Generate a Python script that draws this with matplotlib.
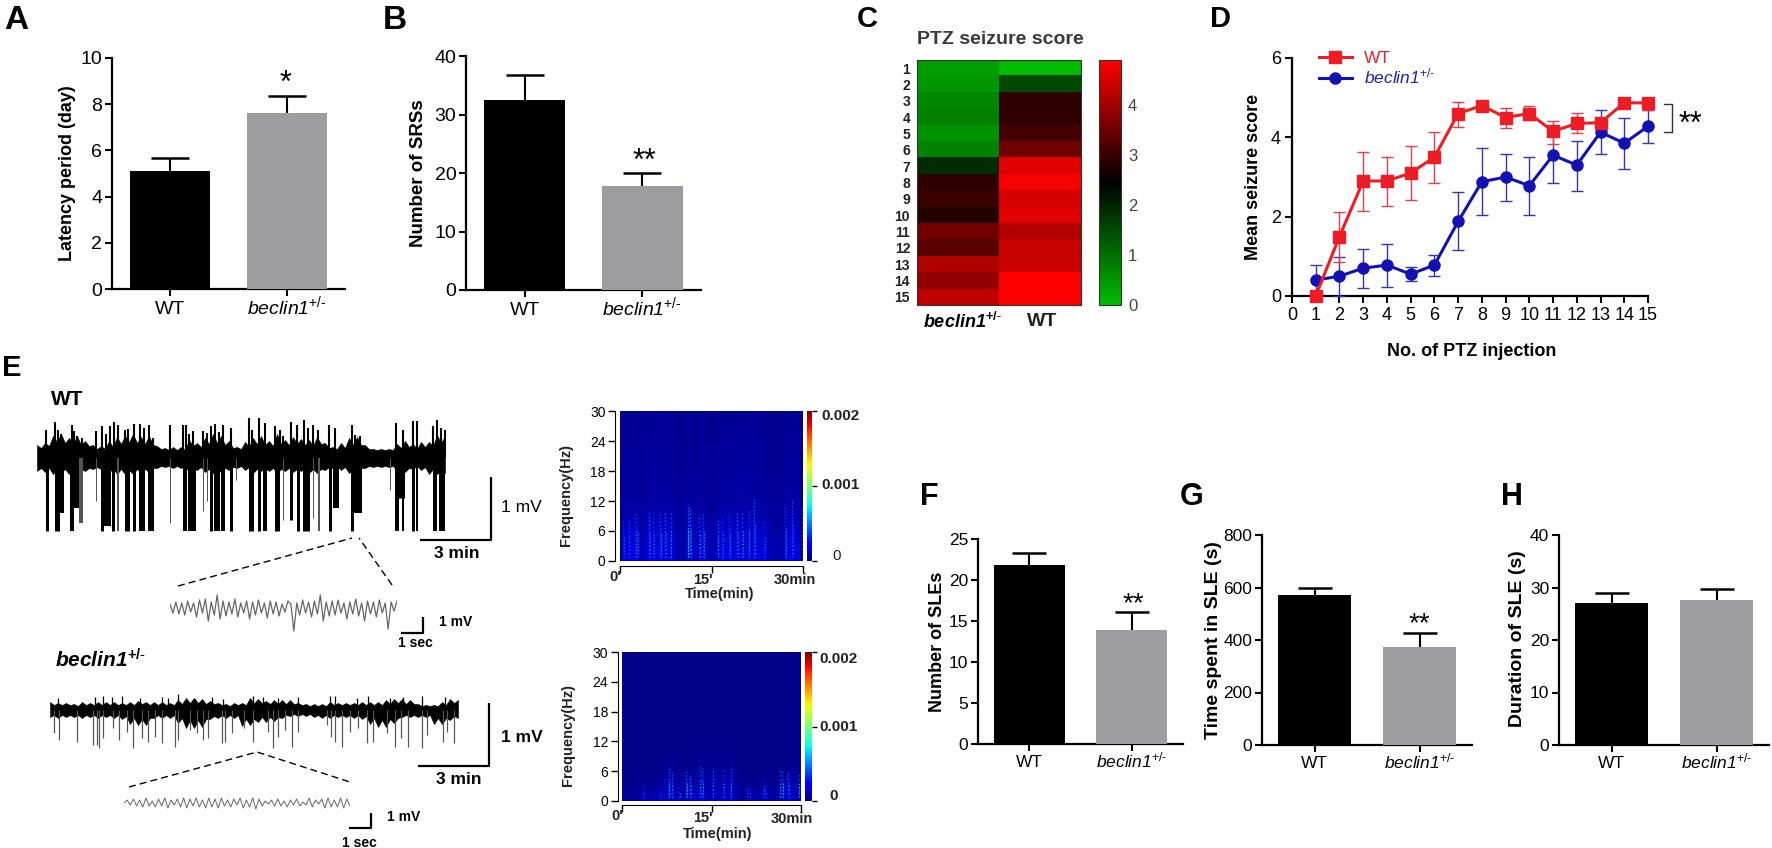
import numpy as np
import matplotlib
matplotlib.use("Agg")
import matplotlib.pyplot as plt
from matplotlib import font_manager
from matplotlib.colors import LinearSegmentedColormap, Normalize
from matplotlib.cm import ScalarMappable

W, H = 1772, 848

# bar panels: WT, beclin1 mean and top of the error bar
groups = ["WT", "beclin"]
latency = [5.1, 7.6]
latency_top = [5.65, 8.35]
srs = [32.5, 17.8]
srs_top = [36.8, 20.0]
sle_count = [21.8, 13.9]
sle_count_top = [23.3, 16.1]
sle_time = [570, 372]
sle_time_top = [600, 428]
sle_dur = [27.0, 27.6]
sle_dur_top = [28.9, 29.7]

# panel D, also the two columns of the heatmap in C
injection = [1, 2, 3, 4, 5, 6, 7, 8, 9, 10, 11, 12, 13, 14, 15]
wt_score = [0, 1.5, 2.9, 2.9, 3.1, 3.5, 4.6, 4.8, 4.5, 4.6, 4.15, 4.35, 4.37, 4.87, 4.87]
wt_high = [0, 2.13, 3.64, 3.51, 3.77, 4.13, 4.89, 4.88, 4.75, 4.8, 4.41, 4.62, 4.42, 4.93, 4.93]
wt_low = [0, 0.86, 2.14, 2.27, 2.42, 2.86, 4.27, 4.72, 4.23, 4.44, 3.82, 4.1, 4.32, 4.81, 4.7]
bec_score = [0.4, 0.5, 0.7, 0.78, 0.55, 0.78, 1.88, 2.88, 3.0, 2.78, 3.55, 3.3, 4.13, 3.85, 4.28]
bec_high = [0.79, 0.99, 1.18, 1.31, 0.73, 1.04, 2.61, 3.72, 3.59, 3.51, 4.23, 3.92, 4.69, 4.48, 4.69]
bec_low = [0, 0, 0.2, 0.22, 0.37, 0.5, 1.15, 2.04, 2.39, 2.03, 2.84, 2.64, 3.58, 3.21, 3.86]

# EEG trace WT: amplitude every 4 units along the trace
wt_band_up = [13, 10, 15, 12, 22, 16, 24, 15, 20, 14,
              22, 13, 17, 12, 13, 9, 12, 9, 17, 11,
              21, 14, 22, 16, 24, 15, 21, 14, 22, 13,
              12, 9, 10, 8, 11, 8, 11, 8, 18, 12,
              15, 11, 20, 14, 24, 15, 22, 13, 17, 10,
              11, 9, 16, 11, 20, 14, 22, 13, 17, 12,
              24, 14, 18, 13, 21, 14, 19, 13, 18, 12,
              21, 14, 15, 10, 11, 9, 15, 10, 20, 13,
              21, 13, 13, 9, 9, 8, 9, 8, 9, 8,
              14, 10, 17, 11, 14, 9, 16, 11, 16, 12,
              23, 15, 22]
wt_band_dn = [13, 10, 14, 10, 16, 12, 15, 11, 16, 11,
              16, 11, 13, 10, 11, 9, 11, 9, 15, 10,
              16, 11, 16, 12, 16, 11, 15, 11, 14, 10,
              10, 8, 9, 8, 10, 8, 10, 8, 14, 10,
              12, 9, 14, 11, 15, 11, 14, 10, 12, 9,
              10, 8, 12, 9, 15, 11, 13, 10, 13, 10,
              15, 11, 13, 10, 14, 11, 13, 10, 15, 11,
              15, 11, 12, 9, 10, 8, 12, 9, 15, 11,
              15, 10, 10, 8, 9, 8, 9, 8, 9, 8,
              13, 9, 14, 10, 11, 8, 12, 9, 16, 11,
              16, 12, 15]
wt_up_x = [9, 18, 21, 24, 26, 35, 37, 40, 45, 59, 65, 69, 73, 77, 81, 88, 91, 97, 103, 107, 112, 116, 133, 146, 149, 152, 156, 166, 170, 174, 178, 182, 186, 194,
           212, 215, 222, 228, 238, 243, 246, 254, 260, 267, 271, 276, 281, 292, 298, 315, 318, 323, 359, 366, 376, 380, 396, 400, 404, 408]
wt_up_h = [28, 36, 28, 24, 18, 33, 27, 22, 20, 27, 32, 24, 32, 36, 33, 28, 29, 34, 34, 30, 33, 20, 33, 33, 33, 24, 27, 27, 25, 32, 34, 26, 33, 30,
           40, 28, 40, 35, 32, 28, 22, 36, 33, 38, 30, 33, 28, 33, 30, 33, 23, 22, 35, 28, 37, 37, 32, 38, 30, 28]
wt_dn_x = [10, 20, 24, 35, 40, 44, 59, 65, 69, 76, 81, 90, 97, 105, 114, 133, 148, 155, 166, 170, 174, 180, 186, 194, 199,
           214, 222, 228, 240, 246, 254, 261, 269, 276, 282, 293, 299, 315, 321, 353, 360, 363, 366, 376, 380, 398, 405]
wt_dn_d = [73, 73, 55, 73, 50, 65, 43, 73, 68, 73, 73, 73, 73, 73, 73, 65, 73, 73, 53, 43, 73, 73, 73, 73, 22,
           73, 73, 73, 73, 62, 62, 73, 73, 60, 73, 73, 50, 73, 55, 32, 73, 40, 73, 73, 73, 73, 73]
wt_dn_w = [3, 5, 6, 4, 10, 4, 1, 3, 10, 3, 2, 5, 3, 6, 6, 1, 4, 8, 1, 1, 3, 6, 4, 3, 1,
           5, 3, 4, 5, 1, 3, 3, 7, 1, 2, 3, 6, 3, 8, 1, 4, 9, 2, 3, 2, 4, 6]
wt_dn_gray = [0, 0, 0, 0, 0, 1, 1, 0, 0, 0, 1, 0, 0, 0, 0, 1, 0, 0, 1, 1, 0, 0, 0, 0, 1,
              0, 0, 0, 0, 1, 0, 0, 0, 1, 1, 0, 0, 0, 0, 1, 0, 0, 0, 0, 0, 0, 0]

# EEG trace beclin1
bec_band_up = [8, 5, 7, 5, 7, 5, 6, 4, 8, 5,
               7, 5, 8, 5, 8, 5, 8, 5, 7, 5,
               8, 5, 9, 6, 8, 5, 8, 5, 8, 5,
               7, 5, 10, 6, 12, 7, 12, 7, 11, 6,
               9, 6, 7, 5, 6, 4, 7, 5, 7, 5,
               12, 7, 11, 7, 9, 6, 10, 6, 10, 6,
               10, 6, 7, 5, 6, 4, 6, 4, 6, 4,
               8, 5, 7, 5, 7, 5, 7, 5, 8, 5,
               8, 5, 8, 5, 10, 6, 11, 7, 11, 6,
               10, 6, 6, 4, 5, 4, 5, 4, 8, 5,
               11, 7, 10]
bec_band_dn = [7, 5, 8, 5, 7, 5, 7, 5, 8, 5,
               7, 5, 8, 5, 7, 5, 8, 5, 9, 6,
               14, 8, 15, 9, 15, 8, 8, 5, 8, 5,
               8, 5, 13, 8, 18, 10, 18, 10, 17, 9,
               9, 6, 8, 5, 8, 5, 8, 5, 16, 9,
               15, 9, 12, 7, 12, 7, 11, 7, 8, 5,
               6, 4, 6, 4, 6, 4, 7, 5, 8, 5,
               8, 5, 7, 5, 7, 5, 8, 5, 9, 6,
               14, 8, 17, 10, 17, 9, 13, 8, 7, 5,
               7, 5, 7, 5, 7, 5, 14, 8, 14, 8,
               10, 6, 8]
bec_up_x = [8, 45, 53, 62, 72, 90, 112, 118, 128, 145, 162, 173, 203, 213, 228, 248, 280, 285, 307, 318, 340, 353, 372, 395]
bec_up_h = [12, 13, 14, 13, 14, 12, 13, 12, 16, 11, 13, 11, 14, 13, 12, 13, 14, 14, 12, 14, 12, 13, 14, 13]
bec_dn_x = [4, 9, 27, 43, 47, 49, 53, 63, 69, 77, 83, 92, 98, 105, 112, 125, 128, 140, 147, 153, 158, 172, 175, 182, 194,
            203, 218, 223, 228, 235, 242, 248, 277, 281, 285, 292, 300, 308, 317, 323, 337, 345, 351, 358, 372, 377, 393, 397, 404]
bec_dn_d = [23, 30, 32, 35, 35, 38, 28, 18, 30, 22, 38, 28, 32, 27, 33, 37, 30, 20, 23, 30, 28, 33, 32, 23, 18,
            32, 22, 38, 27, 20, 37, 22, 15, 27, 32, 37, 22, 18, 33, 32, 23, 37, 28, 37, 38, 25, 32, 22, 33]

# expanded traces, samples
wt_inset = [3, -6, 5, -7, 4, -8, 6, -5, 4, -10, 7, -6, 8, -14, 5, -8, 12, -12, 6, -9, 5, -7, 8, -10, 4, -6, 6, -12, 5, -8, 7, -6, 4,
            -11, 6, -7, 5, -9, 3, -5, 6, 3, -24, 4, -8, 7, -6, 5, -10, 6, -7, 12, -14, 5, -9, 6, -8, 7, -6, 4, -12, 5, -7, 8, -9, 4,
            -14, 6, -7, 5, -10, 7, -6, 4, -22, 5, -4, 6]
bec_inset = [0, 3, -2, 4, -3, 3, -4, 5, -3, 2, -4, 4, -3, 5, -5, 3, -2, 4, -4, 5, -5, 4, -3, 5, -4, 3, -5, 5, -4, 4, -5, 5, -3, 3, -4, 4,
             -2, 5, -5, 3, -4, 5, -6, 4, -3, 2, -1, 3, -3, 4, -3, 2, -4, 3, -2, 4, -3, 1, -2, 5, -4, 3, -1, 4, -5, 5, -4, 3, -4, 5, -5, 4, -3]

# spectrograms (power x 1e-3), one row per frequency, one column per minute
spec_freq = [0, 3, 6, 9, 12, 30]
minutes = [0.5, 1.5, 2.5, 3.5, 4.5, 5.5, 6.5, 7.5, 8.5, 9.5, 10.5, 11.5, 12.5, 13.5, 14.5, 15.5, 16.5, 17.5, 18.5, 19.5, 20.5, 21.5, 22.5, 23.5, 24.5, 25.5, 26.5, 27.5, 28.5, 29.5]
wt_spec = [
    [.17, .17, .18, .09, .17, .18, .17, .17, .18, .09, .08, .18, .10, .18, .10, .09, .17, .18, .17, .18, .17, .18, .17, .18, .10, .09, .08, .17, .18, .17],
    [.15, .15, .16, .08, .15, .16, .15, .15, .16, .08, .07, .16, .09, .16, .09, .08, .15, .16, .15, .16, .15, .16, .15, .16, .09, .08, .07, .15, .16, .15],
    [.11, .12, .13, .07, .13, .13, .12, .13, .13, .07, .06, .13, .08, .13, .08, .07, .12, .13, .13, .13, .13, .13, .13, .12, .08, .07, .06, .13, .13, .12],
    [.08, .08, .09, .06, .09, .09, .09, .09, .09, .06, .06, .10, .06, .09, .06, .06, .09, .09, .09, .09, .09, .10, .10, .08, .06, .06, .06, .09, .09, .09],
    [.06, .06, .07, .05, .06, .07, .06, .07, .07, .05, .05, .07, .05, .07, .05, .05, .07, .07, .06, .07, .07, .07, .07, .06, .05, .05, .05, .07, .07, .07],
    [.04, .04, .05, .03, .04, .04, .04, .04, .05, .03, .03, .04, .03, .05, .03, .03, .04, .04, .04, .04, .04, .05, .04, .04, .03, .03, .03, .04, .04, .04],
]
bec_spec = [
    [.09, .05, .06, .11, .08, .12, .12, .13, .14, .14, .09, .15, .13, .16, .12, .13, .11, .15, .13, .08, .06, .12, .08, .12, .13, .06, .10, .15, .14, .15],
    [.03, .03, .03, .05, .04, .05, .06, .09, .10, .06, .05, .09, .07, .11, .07, .09, .08, .10, .09, .05, .03, .04, .03, .05, .05, .03, .05, .10, .09, .10],
    [.02, .02, .02, .02, .02, .02, .03, .04, .05, .03, .03, .04, .04, .05, .04, .05, .04, .05, .04, .03, .02, .02, .02, .03, .03, .02, .02, .04, .04, .05],
    [.02, .02, .02, .02, .02, .02, .02, .03, .03, .03, .02, .03, .03, .03, .03, .03, .03, .03, .03, .02, .02, .02, .02, .02, .02, .02, .02, .02, .03, .03],
    [.02, .02, .02, .02, .02, .02, .02, .02, .02, .02, .02, .02, .02, .02, .02, .02, .02, .02, .02, .02, .02, .02, .02, .02, .02, .02, .02, .02, .02, .02],
    [.02, .02, .02, .02, .02, .02, .02, .02, .02, .02, .02, .02, .02, .02, .02, .02, .02, .02, .02, .02, .02, .02, .02, .02, .02, .02, .02, .02, .02, .02],
]
# bright speckled bursts: time (min), top frequency (Hz), power
wt_burst_t = [0.5, 1.4, 2.5, 2.8, 4.8, 5.4, 6.6, 7.4, 8.3, 11.1, 11.5, 13, 13.6, 16, 16.7, 17.9, 19.2, 20, 21.1, 22, 23.6, 27.1, 28.2, 29.8]
wt_burst_f = [8.5, 8.5, 9.9, 9.9, 9.5, 9.5, 9.5, 9.9, 9.9, 10.9, 10.9, 9.5, 9.9, 8.5, 8.9, 9.2, 9.9, 9.9, 10.5, 12.5, 7.9, 10.9, 12.5, 11]
wt_burst_p = [.32, .34, .38, .34, .42, .38, .40, .40, .44, .5, .46, .44, .40, .42, .38, .38, .42, .44, .38, .42, .34, .38, .38, .38]
bec_burst_t = [3.6, 5.3, 6.4, 7.8, 8.3, 9.6, 10.8, 11.4, 13, 13.4, 15.2, 16.9, 18.2, 20.9, 21.3, 23.6, 24, 26.4, 26.8, 27.8, 29.6]
bec_burst_f = [3.2, 1.2, 2.6, 6.6, 5.9, 2.6, 6.3, 5.3, 7.3, 6.6, 6.3, 6.6, 6.6, 2.6, 3.2, 4.6, 3.2, 6.6, 6.3, 5.9, 5.9]
bec_burst_p = [.30, .34, .30, .42, .40, .40, .44, .44, .40, .40, .40, .38, .38, .34, .34, .30, .34, .42, .44, .40, .48]

seizure_ticks = [0, 1, 2, 3, 4]
heat_rows = [str(i) for i in injection]

installed = {f.name for f in font_manager.fontManager.ttflist}
narrow = "Liberation Sans Narrow" if "Liberation Sans Narrow" in installed else "Liberation Sans"
plt.rcParams["font.family"] = "Liberation Sans"
plt.rcParams["mathtext.fontset"] = "custom"
plt.rcParams["mathtext.rm"] = "Liberation Sans"
plt.rcParams["mathtext.it"] = "Liberation Sans:italic"
plt.rcParams["mathtext.bf"] = "Liberation Sans:bold"
plt.rcParams["mathtext.bfit"] = "Liberation Sans:italic:bold"
plt.rcParams["mathtext.cal"] = "Liberation Sans:italic"
plt.rcParams["mathtext.sf"] = narrow + ":italic"

BEC_NARROW = r"$\mathsf{beclin1}^{\text{+/-}}$"
BEC_ITALIC = r"$\mathcal{beclin1}^{\text{+/-}}$"
BEC_BOLD = r"$\mathbfit{beclin1}^{\mathbf{+/}\text{-}}$"

fig = plt.figure(figsize=(W / 100, H / 100), dpi=100)


def ax_px(left, top, right, bottom):
    return fig.add_axes([left / W, 1 - bottom / H, (right - left) / W, (bottom - top) / H])


def bar_panel(box, vals, tops, ymax, yticks, cap, fs, xpad):
    ax = ax_px(*box)
    ax.bar([0, 1], vals, width=0.69, color=["black", "#9d9da0"], zorder=3)
    for i in range(2):
        eb = ax.errorbar(i, vals[i], yerr=[[0], [tops[i] - vals[i]]], color="black", lw=1.5,
                         capsize=cap, capthick=1.8, zorder=1)
        eb[1][0].set_visible(False)  # no cap at the bar top
    ax.set_xlim(-0.5, 1.5)
    ax.set_ylim(0, ymax)
    ax.set_yticks(yticks)
    ax.set_xticks([0, 1])
    ax.set_xticklabels(["WT", BEC_NARROW])
    for lab in ax.get_xticklabels() + ax.get_yticklabels():
        lab.set_fontfamily(narrow)
        lab.set_fontsize(fs)
    for lab in ax.get_xticklabels():
        lab.set_verticalalignment("baseline")
    ax.tick_params(width=1.5, length=5)
    ax.tick_params(axis="x", pad=xpad)
    ax.tick_params(axis="y", pad=2)
    for s in ["top", "right"]:
        ax.spines[s].set_visible(False)
    for s in ["left", "bottom"]:
        ax.spines[s].set_linewidth(1.6)
    return ax


bar_panel((112, 58, 345, 289), latency, latency_top, 10, [0, 2, 4, 6, 8, 10], 14, 14, 13)
bar_panel((466, 56, 701, 290), srs, srs_top, 40, [0, 10, 20, 30, 40], 14, 14, 13)
bar_panel((978, 539, 1183, 744), sle_count, sle_count_top, 25, [0, 5, 10, 15, 20, 25], 12.5, 12.5, 11.5)
bar_panel((1262, 535, 1472, 745), sle_time, sle_time_top, 800, [0, 200, 400, 600, 800], 12.5, 12.5, 11.5)
bar_panel((1559, 535, 1769, 745), sle_dur, sle_dur_top, 40, [0, 10, 20, 30, 40], 12.5, 12.5, 11.5)

# panel C
seizure_cmap = LinearSegmentedColormap.from_list(
    "seizure", [(0, (0, 0.74, 0)), (2.45 / 4.89, (0, 0, 0)), (1, (1, 0, 0))])
ax_c = ax_px(917, 60, 1081, 305)
im = ax_c.imshow(np.array([bec_score, wt_score]).T, cmap=seizure_cmap, vmin=0, vmax=4.89, aspect="auto")
ax_c.set_xticks([])
ax_c.set_yticks(range(15))
ax_c.set_yticklabels(heat_rows, fontweight="bold", fontsize=10, color="#222222")
ax_c.tick_params(axis="y", length=0, pad=5)
for s in ax_c.spines.values():
    s.set_color("#333333")
cax = ax_px(1099, 60, 1121, 305)
cb = fig.colorbar(im, cax=cax)
cb.set_ticks(seizure_ticks)
cb.ax.tick_params(length=0, labelsize=12, labelcolor="#444444", pad=5)
cb.outline.set_edgecolor("#333333")

# panel D
ax_d = ax_px(1292, 58, 1648, 296)
wt_err = [np.array(wt_score) - np.array(wt_low), np.array(wt_high) - np.array(wt_score)]
bec_err = [np.array(bec_score) - np.array(bec_low), np.array(bec_high) - np.array(bec_score)]
ax_d.errorbar(injection, wt_score, yerr=wt_err, color="#ee1c25", ecolor="#e2404c", lw=2.2, elinewidth=1,
              capsize=4.5, capthick=1, marker="s", ms=8, clip_on=False, label="WT", zorder=4)
ax_d.errorbar(injection, bec_score, yerr=bec_err, color="#1212b4", ecolor="#3434b4", lw=2.2, elinewidth=1,
              capsize=4.5, capthick=1, marker="o", ms=8, clip_on=False, label=BEC_ITALIC, zorder=3)
ax_d.set_xlim(0, 15)
ax_d.set_ylim(0, 6)
ax_d.set_xticks(range(16))
ax_d.set_yticks([0, 2, 4, 6])
ax_d.tick_params(labelsize=13, width=1.5, length=5, pad=3)
for s in ["top", "right"]:
    ax_d.spines[s].set_visible(False)
for s in ["left", "bottom"]:
    ax_d.spines[s].set_linewidth(1.6)
hd, lb = ax_d.get_legend_handles_labels()
hd = [h[0] for h in hd]
leg = ax_d.legend(hd, lb, loc="upper left", bbox_to_anchor=(0.075, 1.03), frameon=False, fontsize=12.5,
                  handlelength=1.9, handletextpad=0.7, labelspacing=0.05, labelcolor=["#e8202c", "#2020a8"],
                  borderpad=0, borderaxespad=0)


def trace(box, ylim, up, dn, up_x, up_h, dn_x, dn_d, up_lw, dn_w=None, dn_gray=None):
    ax = ax_px(*box)
    ax.set_xlim(0, 410)
    ax.set_ylim(*ylim)
    ax.axis("off")
    x = np.arange(len(up)) * 4
    ax.fill_between(x, -np.array(dn), up, color="black", lw=0.4)
    ax.vlines(up_x, 0, up_h, color="black", lw=up_lw)
    if dn_w is None:
        dn_w = [1.2] * len(dn_x)
    if dn_gray is None:
        dn_gray = [1] * len(dn_x)
    cols = ["#555555" if g else "black" for g in dn_gray]
    ax.vlines(dn_x, 0, -np.array(dn_d), colors=cols, lw=np.array(dn_w) * 0.72)
    return ax


trace((37, 418, 447, 535), (-77, 40), wt_band_up, wt_band_dn, wt_up_x, wt_up_h, wt_dn_x, wt_dn_d, 1.5, wt_dn_w, wt_dn_gray)
trace((50, 693, 460, 750), (-40, 17), bec_band_up, bec_band_dn, bec_up_x, bec_up_h, bec_dn_x, bec_dn_d, 0.9)

ins = ax_px(170, 589, 397, 635)
ins.plot(range(len(wt_inset)), wt_inset, color="#666666", lw=0.9)
ins.set_xlim(0, len(wt_inset) - 1)
ins.set_ylim(-28, 18)
ins.axis("off")
ins = ax_px(124, 795, 350, 811)
ins.plot(range(len(bec_inset)), bec_inset, color="#666666", lw=0.7)
ins.set_xlim(0, len(bec_inset) - 1)
ins.set_ylim(-8, 8)
ins.axis("off")

DASHES = [(0, (0.9, 1.6)), (0.6, (1.3, 1.3)), (0.3, (0.8, 2.3))]


def spectro(box, cbar_box, spec, bt, bf, bp, vx, hy):
    ax = ax_px(*box)
    norm = Normalize(0, 0.002)
    cmap = plt.get_cmap("jet")
    ax.set_facecolor(cmap(norm(np.array(spec).min() * 1e-3)))
    ax.pcolormesh(minutes, spec_freq, np.array(spec) * 1e-3, cmap=cmap, norm=norm, shading="gouraud")
    for i, (t, f, p) in enumerate(zip(bt, bf, bp)):
        ax.vlines(t, 0.8, f, color=cmap(norm(p * 1e-3)), lw=1.0, linestyles=DASHES[i % 3])
        ax.vlines(t + 0.12, 0.8, f * 0.6, color=cmap(norm(p * 1.3e-3)), lw=0.9, linestyles=DASHES[(i + 1) % 3])
    ax.set_xlim(0, 30)
    ax.set_ylim(0, 30)
    ax.set_xticks([0, 15, 30])
    ax.set_xticklabels([])
    ax.set_yticks([0, 6, 12, 18, 24, 30])
    ax.set_yticklabels(["0", "6", "12", "18", "24", "30"], fontsize=11, fontweight="bold", color="#222222")
    ax.get_yticklabels()[0].set_verticalalignment("bottom")
    ax.tick_params(width=1, length=5, pad=2)
    ax.spines["top"].set_visible(False)
    ax.spines["right"].set_visible(False)
    ax.spines["left"].set_position(("outward", vx))
    ax.spines["bottom"].set_position(("outward", hy))
    c = ax_px(*cbar_box)
    cb = fig.colorbar(ScalarMappable(norm, cmap), cax=c)
    cb.set_ticks([0, 0.001, 0.002])
    cb.set_ticklabels([])
    cb.outline.set_visible(False)
    cb.ax.tick_params(length=3.5, width=1)


spectro((620, 411, 803, 561), (807, 411, 812, 561), wt_spec, wt_burst_t, wt_burst_f, wt_burst_p, 3.5, 3.5)
spectro((622, 652, 801, 801), (805, 652, 812, 801), bec_spec, bec_burst_t, bec_burst_f, bec_burst_p, 3, 3)

# everything in figure pixels from here on
over = fig.add_axes([0, 0, 1, 1], zorder=10)
over.set_xlim(0, W)
over.set_ylim(H, 0)
over.axis("off")
over.patch.set_alpha(0)


def txt(x, y, s, size=13, weight="normal", ha="left", va="center", **kw):
    over.text(x, y, s, fontsize=size, fontweight=weight, ha=ha, va=va, **kw)


# panel letters
for x, y, s, size in [(4, 29, "A", 24), (383, 29, "B", 24), (857, 27, "C", 21), (1210, 27, "D", 21), (2, 376, "E", 21),
                      (920, 505, "F", 22), (1180, 505, "G", 22), (1501, 505, "H", 22)]:
    txt(x, y, s, size, "bold", va="baseline")

# axis titles
txt(68, 173, "Latency period (day)", 13, "bold", ha="center", rotation=90)
txt(419, 173, "Number of SRSs", 13.5, "bold", ha="center", rotation=90)
txt(938, 642, "Number of SLEs", 13, "bold", ha="center", rotation=90)
txt(1214, 640, "Time spent in SLE (s)", 14, "bold", ha="center", rotation=90)
txt(1518, 639, "Duration of SLE (s)", 14, "bold", ha="center", rotation=90)
txt(1254, 177, "Mean seizure score", 13, "bold", ha="center", rotation=90)
txt(1472, 352, "No. of PTZ injection", 13, "bold", ha="center")

# asterisks
star_kw = dict(weight="normal", ha="center", va="center")
txt(286, 84, "*", 22, **star_kw)
txt(644, 162, "**", 22, **star_kw)
txt(1133, 604, "**", 20, **star_kw)
txt(1419, 624, "**", 20, **star_kw)
txt(1690, 125, "**", 22, **star_kw)
over.plot([1664, 1672, 1672, 1664], [104, 104, 132, 132], color="#333333", lw=1)

# panel C texts
txt(1000, 39, "PTZ seizure score", 14, "bold", ha="center", color="#3a3a3a")
txt(923, 322, BEC_BOLD, 13)
txt(1042, 322, "WT", 14, "bold", ha="center", color="#222222")

# panel E texts and scale bars
txt(51, 405, "WT", 15, "bold", va="baseline")
txt(55, 667, BEC_BOLD, 15, va="baseline")
bar_kw = dict(color="black", lw=1.6, solid_capstyle="butt")
over.plot([420, 491, 491], [540, 540, 477], **bar_kw)
over.plot([418, 489, 489], [766, 766, 703], **bar_kw)
over.plot([401, 423, 423], [633, 633, 617], **bar_kw)
over.plot([349, 371, 371], [828, 828, 813], **bar_kw)
txt(457, 553, "3 min", 12.5, "bold", ha="center")
txt(459, 780, "3 min", 12.5, "bold", ha="center")
txt(501, 508, "1 mV", 12.5)
txt(501, 737, "1 mV", 12.5, "bold")
txt(439, 622, "1 mV", 10, "bold")
txt(387, 817, "1 mV", 10, "bold")
txt(415, 643, "1 sec", 10, "bold", ha="center")
txt(359, 843, "1 sec", 10, "bold", ha="center")
dash_kw = dict(color="black", lw=1, ls=(0, (5, 3)))
over.plot([178, 352], [586, 538], **dash_kw)
over.plot([392, 359], [585, 538], **dash_kw)
over.plot([129, 257, 350], [787, 752, 782], **dash_kw)

# spectrogram labels
sp_kw = dict(size=10.5, weight="bold", ha="center", color="#222222")
txt(566, 495, "Frequency(Hz)", rotation=90, **sp_kw)
txt(568, 735, "Frequency(Hz)", rotation=90, **sp_kw)
txt(615, 577, "0'", **sp_kw)
txt(703, 580, "15'", **sp_kw)
txt(795, 580, "30min", **sp_kw)
txt(720, 594, "Time(min)", **sp_kw)
txt(617, 816, "0'", **sp_kw)
txt(703, 818, "15'", **sp_kw)
txt(792, 819, "30min", **sp_kw)
txt(718, 834, "Time(min)", **sp_kw)
cb_kw = dict(size=11, weight="bold", color="#222222")
txt(821, 416, "0.002", **cb_kw)
txt(821, 485, "0.001", **cb_kw)
txt(832, 556, "0", weight="normal", size=11, color="#222222")
txt(819, 659, "0.002", **cb_kw)
txt(819, 727, "0.001", **cb_kw)
txt(829, 796, "0", **cb_kw)

fig.savefig("out.png", dpi=100)
